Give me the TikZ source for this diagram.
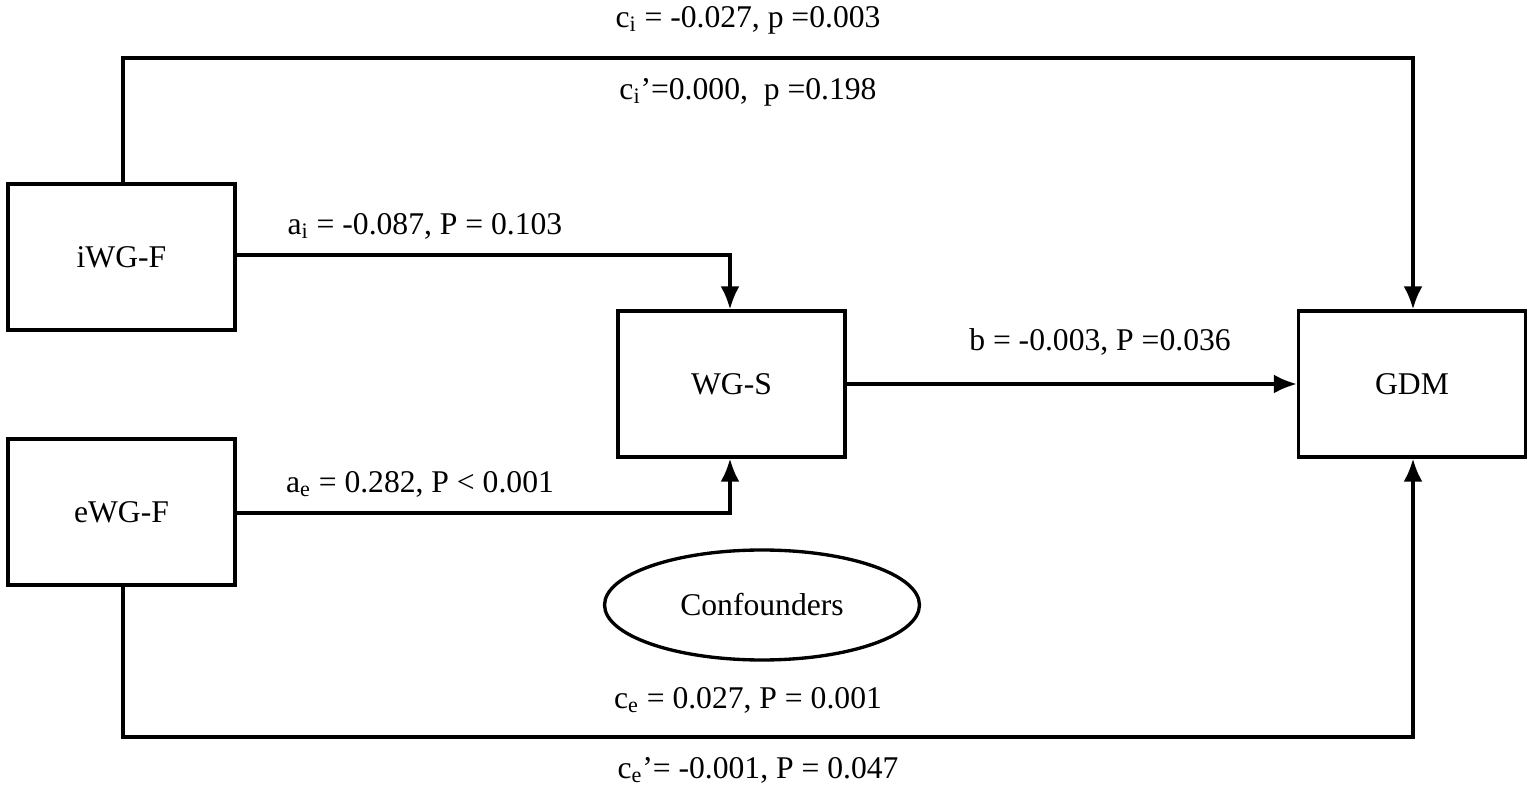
\documentclass[tikz,border=0pt]{standalone}
\usepackage{fontspec}
\setmainfont{Liberation Serif}
\usetikzlibrary{shapes,arrows.meta,positioning,calc}

\begin{document}
\begin{tikzpicture}[x=0.02cm, y=-0.02cm, line width=1.9pt,
        box/.style={draw, rectangle, minimum width=4.54cm, minimum height=2.92cm, font=\fontsize{18}{21}\selectfont},
        lbl/.style={font=\fontsize{18}{21}\selectfont, inner sep=0pt},
        arr/.style={-{Latex[length=0.46cm, width=0.38cm]}}]
        \useasboundingbox (0,0) rectangle (1535,793);

        \node[box] (iwgf) at (121.5,257) {iWG-F} ;
        \node[box] (ewgf) at (121.5,512) {eWG-F} ;
        \node[box] (wgs) at (731.5,384) {WG-S} ;
        \node[box] (gdm) at (1412,384) {GDM} ;
        \node[draw, ellipse, minimum width=6.3cm, minimum height=2.2cm, lbl] (conf) at (762,605) {Confounders} ;

        \coordinate (tl) at (123,58) ;
        \coordinate (tr) at (1413,58) ;
        \coordinate (bl) at (123,737) ;
        \coordinate (br) at (1413,737) ;

        \draw[arr] (iwgf.north -| tl) -- (tl) -- (tr) -- (gdm.north -| tr) ;
        \draw[arr] (ewgf.south -| bl) -- (bl) -- (br) -- (gdm.south -| br) ;
        \draw[arr] (iwgf.east |- 0,255) -| (wgs.north -| 730,0) ;
        \draw[arr] (ewgf.east |- 0,513) -| (wgs.south -| 730,0) ;
        \draw[arr] (wgs.east) -- (gdm.west) ;

        \node[lbl] (ci) at (748,20) {c\textsubscript{i} = -0.027, p =0.003} ;
        \node[lbl] (cip) at (748,92) {c\textsubscript{i}'=0.000, \ p =0.198} ;
        \node[lbl] (ai) at (425,226) {a\textsubscript{i} = -0.087, P = 0.103} ;
        \node[lbl] (ae) at (420,484) {a\textsubscript{e} = 0.282, P < 0.001} ;
        \node[lbl] (bb) at (1100,342) {b = -0.003, P =0.036} ;
        \node[lbl] (ce) at (748,700) {c\textsubscript{e} = 0.027, P = 0.001} ;
        \node[lbl] (cep) at (758,770) {c\textsubscript{e}'= -0.001, P = 0.047} ;
\end{tikzpicture}
\end{document}
